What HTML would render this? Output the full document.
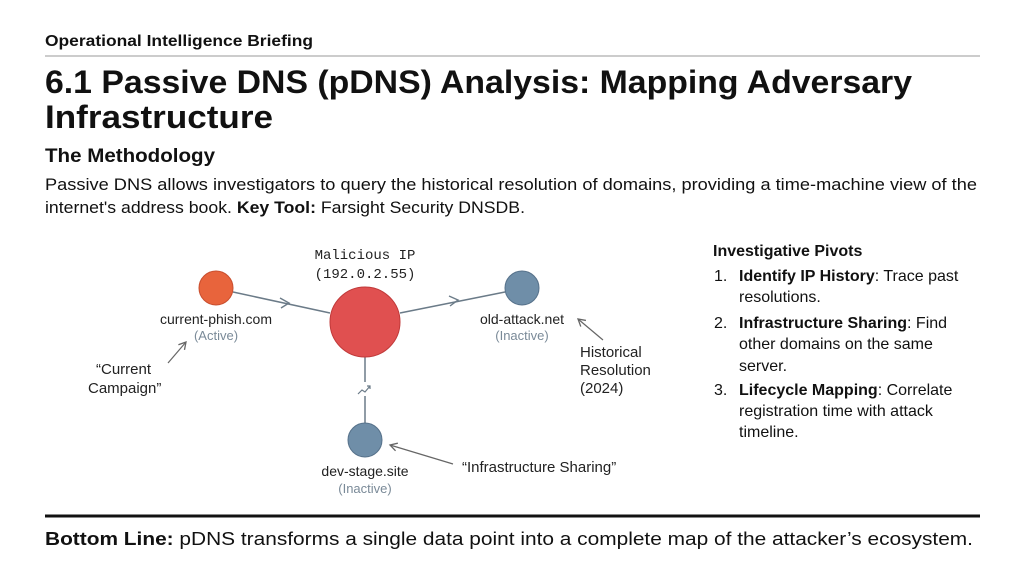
<!DOCTYPE html>
<html><head><meta charset="utf-8"><style>
html,body{margin:0;padding:0;background:#fff;}
svg{display:block;font-family:"Liberation Sans",sans-serif;}
</style></head><body>
<svg width="1024" height="572" viewBox="0 0 1024 572" xmlns="http://www.w3.org/2000/svg">
<defs><marker id="ah" markerWidth="10" markerHeight="10" refX="8" refY="5" orient="auto" markerUnits="userSpaceOnUse"><path d="M1,1 L8,5 L1,9" fill="none" stroke="#666" stroke-width="1.3"/></marker></defs>
<text x="45" y="46" font-size="16" font-weight="bold" fill="#111" textLength="268" lengthAdjust="spacingAndGlyphs">Operational Intelligence Briefing</text>
<line x1="45" y1="56" x2="980" y2="56" stroke="#999" stroke-width="1"/>
<text x="45" y="93" font-size="32" font-weight="bold" fill="#111" textLength="867" lengthAdjust="spacingAndGlyphs">6.1 Passive DNS (pDNS) Analysis: Mapping Adversary</text>
<text x="45" y="128" font-size="32" font-weight="bold" fill="#111" textLength="228" lengthAdjust="spacingAndGlyphs">Infrastructure</text>
<text x="45" y="162" font-size="19" font-weight="bold" fill="#111" textLength="170" lengthAdjust="spacingAndGlyphs">The Methodology</text>
<text x="45" y="190" font-size="16.5" fill="#111" textLength="932" lengthAdjust="spacingAndGlyphs">Passive DNS allows investigators to query the historical resolution of domains, providing a time-machine view of the</text>
<text x="45" y="213" font-size="16.5" fill="#111" textLength="480" lengthAdjust="spacingAndGlyphs">internet's address book. <tspan font-weight="bold">Key Tool:</tspan> Farsight Security DNSDB.</text>

<!-- diagram -->
<line x1="233" y1="292" x2="330" y2="313" stroke="#6b7b88" stroke-width="1.5"/>
<path d="M280,298 L289,303 L281,308" fill="none" stroke="#6b7b88" stroke-width="1.4"/>
<line x1="400" y1="313" x2="505" y2="292" stroke="#6b7b88" stroke-width="1.5"/>
<path d="M449,296 L458,300 L450,306" fill="none" stroke="#6b7b88" stroke-width="1.4"/>
<line x1="365" y1="357" x2="365" y2="423" stroke="#6b7b88" stroke-width="1.5"/>
<rect x="356" y="382" width="18" height="14" fill="#fff"/>
<path d="M358,394 L362,390 L365,392 L370,386 M367,386 L370,386 L370,389" fill="none" stroke="#6b7b88" stroke-width="1.2"/>
<circle cx="216" cy="288" r="17" fill="#e8643c" stroke="#c84e2e" stroke-width="1"/>
<circle cx="365" cy="322" r="35" fill="#e05050" stroke="#c03a3a" stroke-width="1"/>
<circle cx="522" cy="288" r="17" fill="#6f8ea8" stroke="#56718a" stroke-width="1"/>
<circle cx="365" cy="440" r="17" fill="#6f8ea8" stroke="#56718a" stroke-width="1"/>
<g font-family="'Liberation Mono',monospace" font-size="14" fill="#222" text-anchor="middle">
<text x="365" y="259">Malicious IP</text>
<text x="365" y="278">(192.0.2.55)</text>
</g>
<g font-size="14" text-anchor="middle" fill="#222">
<text x="216" y="324">current-phish.com</text>
<text x="216" y="340" font-size="13" fill="#7a8a98">(Active)</text>
<text x="522" y="324">old-attack.net</text>
<text x="522" y="340" font-size="13" fill="#7a8a98">(Inactive)</text>
<text x="365" y="476">dev-stage.site</text>
<text x="365" y="493" font-size="13" fill="#7a8a98">(Inactive)</text>
</g>
<g font-size="15" fill="#222">
<text x="96" y="374">“Current</text>
<text x="88" y="393">Campaign”</text>
<text x="580" y="357">Historical</text>
<text x="580" y="375">Resolution</text>
<text x="580" y="393">(2024)</text>
<text x="462" y="472">“Infrastructure Sharing”</text>
</g>
<line x1="168" y1="363" x2="186" y2="342" stroke="#666" stroke-width="1.2" marker-end="url(#ah)"/>
<line x1="603" y1="340" x2="578" y2="319" stroke="#666" stroke-width="1.2" marker-end="url(#ah)"/>
<line x1="453" y1="464" x2="390" y2="445" stroke="#666" stroke-width="1.2" marker-end="url(#ah)"/>

<!-- right panel -->
<g font-size="16" fill="#111">
<text x="713" y="256" font-weight="bold">Investigative Pivots</text>
<text x="714" y="281">1.</text>
<text x="739" y="281"><tspan font-weight="bold">Identify IP History</tspan>: Trace past</text>
<text x="739" y="302">resolutions.</text>
<text x="714" y="328">2.</text>
<text x="739" y="328"><tspan font-weight="bold">Infrastructure Sharing</tspan>: Find</text>
<text x="739" y="349">other domains on the same</text>
<text x="739" y="371">server.</text>
<text x="714" y="395">3.</text>
<text x="739" y="395"><tspan font-weight="bold">Lifecycle Mapping</tspan>: Correlate</text>
<text x="739" y="416">registration time with attack</text>
<text x="739" y="437">timeline.</text>
</g>

<line x1="45" y1="516" x2="980" y2="516" stroke="#111" stroke-width="3"/>
<text x="45" y="545" font-size="18" fill="#111" textLength="928" lengthAdjust="spacingAndGlyphs"><tspan font-weight="bold">Bottom Line:</tspan> pDNS transforms a single data point into a complete map of the attacker’s ecosystem.</text>
</svg>
</body></html>
